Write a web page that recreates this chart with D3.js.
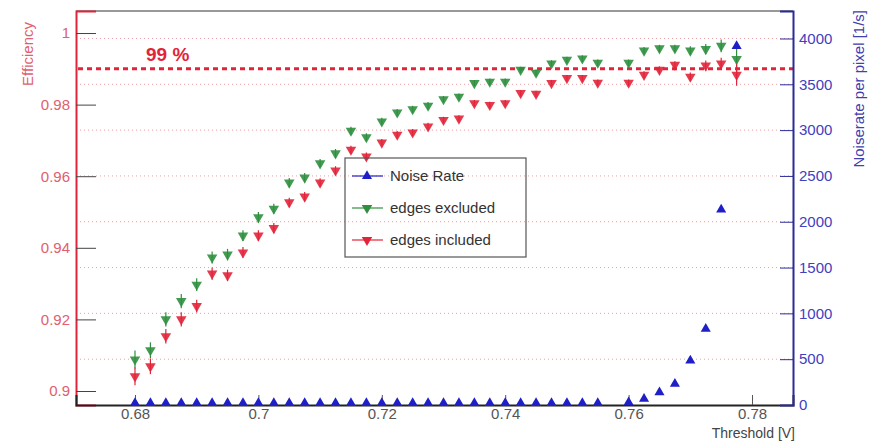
<!DOCTYPE html>
<html>
<head>
<meta charset="utf-8">
<script src="https://cdn.jsdelivr.net/npm/d3@7"></script>
<style>
  body { margin: 0; background: #fff; }
  svg { display: block; font-family: "Liberation Sans", Arial, sans-serif; }
</style>
</head>
<body>
<svg id="chart" width="874" height="441"></svg>
<script>
// threshold values [V] (0.7575 was not measured)
var thresholds = [0.68, 0.6825, 0.685, 0.6875, 0.69, 0.6925, 0.695, 0.6975, 0.7, 0.7025,
    0.705, 0.7075, 0.71, 0.7125, 0.715, 0.7175, 0.72, 0.7225, 0.725, 0.7275,
    0.73, 0.7325, 0.735, 0.7375, 0.74, 0.7425, 0.745, 0.7475, 0.75, 0.7525,
    0.755, 0.76, 0.7625, 0.765, 0.7675, 0.77, 0.7725, 0.775, 0.7775];

var effExcluded = [0.9088, 0.9114, 0.9200, 0.9251, 0.9297, 0.9373, 0.9381, 0.9434, 0.9485, 0.9509,
    0.9582, 0.9596, 0.9636, 0.9664, 0.9727, 0.9709, 0.9753, 0.9778, 0.9787, 0.9797,
    0.9815, 0.9822, 0.9860, 0.9864, 0.9864, 0.9897, 0.9889, 0.9915, 0.9925, 0.9929,
    0.9917, 0.9917, 0.9951, 0.9957, 0.9957, 0.9951, 0.9955, 0.9964, 0.9927];

var effIncluded = [0.9041, 0.9069, 0.9153, 0.9200, 0.9237, 0.9328, 0.9323, 0.9387, 0.9434, 0.9455,
    0.9527, 0.9543, 0.9582, 0.9616, 0.9674, 0.9655, 0.9694, 0.9716, 0.9722, 0.9739,
    0.9757, 0.9761, 0.9804, 0.9799, 0.9804, 0.9832, 0.9830, 0.9860, 0.9874, 0.9874,
    0.9861, 0.9861, 0.9883, 0.9897, 0.9911, 0.9878, 0.9909, 0.9915, 0.9883];

var errExcluded = [0.0025, 0.0022, 0.002, 0.002, 0.0018, 0.0017, 0.0016, 0.0015, 0.0015, 0.0014,
    0.0013, 0.0013, 0.0012, 0.0012, 0.0011, 0.0011, 0.001, 0.001, 0.001, 0.001,
    0.0009, 0.0009, 0.0009, 0.0009, 0.0009, 0.0009, 0.0009, 0.0009, 0.0009, 0.0009,
    0.0009, 0.0009, 0.001, 0.001, 0.001, 0.0012, 0.0014, 0.0018, 0.0045];

var errIncluded = [0.0025, 0.0022, 0.002, 0.002, 0.0018, 0.0017, 0.0016, 0.0015, 0.0015, 0.0014,
    0.0013, 0.0013, 0.0012, 0.0012, 0.0011, 0.0011, 0.001, 0.001, 0.001, 0.001,
    0.0009, 0.0009, 0.0009, 0.0009, 0.0009, 0.0009, 0.0009, 0.0009, 0.0009, 0.0009,
    0.0009, 0.0009, 0.001, 0.001, 0.001, 0.0012, 0.0014, 0.0016, 0.003];

// noise rate per pixel [1/s]
var noiseRate = [0, 0, 0, 0, 0, 0, 0, 0, 0, 0,
    0, 0, 0, 0, 0, 0, 0, 0, 0, 0,
    0, 0, 0, 0, 0, 0, 0, 0, 0, 0,
    0, 8, 45, 117, 208, 463, 810, 2112, 3895];

var effTicks = [0.9, 0.92, 0.94, 0.96, 0.98, 1];
var noiseTicks = [0, 500, 1000, 1500, 2000, 2500, 3000, 3500, 4000];
var thrTicks = [0.68, 0.7, 0.72, 0.74, 0.76, 0.78];
var legendLabels = ['Noise Rate', 'edges excluded', 'edges included'];

// frame edges ("top" is taken by window.top, so prefix them)
var padLeft = 76, padRight = 793, padTop = 11, padBottom = 405;
var red = '#e2243a', green = '#2f8f3f', blue = '#1f1fc8';

var svg = d3.select('#chart');

var x = d3.scaleLinear().domain([0.67044, 0.78664]).range([padLeft, padRight]);
var yEff = d3.scaleLinear().domain([0.89609, 1.00615]).range([padBottom, padTop]);
var yNoise = d3.scaleLinear().domain([0, 4300]).range([padBottom, padTop]);

// dotted grid at the noise axis divisions
svg.append('g')
    .selectAll('line')
    .data(noiseTicks.slice(1))
    .enter()
    .append('line')
    .attr('x1', padLeft)
    .attr('x2', padRight)
    .attr('y1', function(d) { return yNoise(d); })
    .attr('y2', function(d) { return yNoise(d); })
    .style('stroke', '#e07880')
    .style('stroke-width', 1)
    .style('stroke-dasharray', '1,3')
    .style('opacity', 0.7);

// 99 % reference line
svg.append('line')
    .attr('x1', padLeft + 2)
    .attr('x2', padRight)
    .attr('y1', yEff(0.99))
    .attr('y2', yEff(0.99))
    .style('stroke', red)
    .style('stroke-width', 3)
    .style('stroke-dasharray', '5,4');

svg.append('text')
    .attr('x', 146)
    .attr('y', 61)
    .attr('fill', red)
    .style('font-size', '19px')
    .style('font-weight', 'bold')
    .text('99 %');

// frame top
svg.append('line')
    .attr('x1', padLeft).attr('x2', padRight)
    .attr('y1', padTop).attr('y2', padTop)
    .style('stroke', '#777')
    .style('stroke-width', 1.5);

// left axis (efficiency)
var gLeft = svg.append('g').attr('transform', 'translate(' + padLeft + ',0)');
gLeft.call(d3.axisLeft(yEff).tickValues(d3.range(0.895, 1.0065, 0.005)).tickSize(-8).tickFormat(''));
gLeft.call(d3.axisLeft(yEff).tickValues(effTicks).tickSize(-20).tickPadding(6).tickFormat(d3.format('')));
gLeft.selectAll('.tick line').style('stroke', '#444');
gLeft.selectAll('.domain').style('stroke', red).style('stroke-width', 2);
gLeft.selectAll('text').attr('fill', '#e0606e').style('font-size', '15px').style('font-family', 'Liberation Sans, Arial, sans-serif');

// bottom axis (threshold)
var gBottom = svg.append('g').attr('transform', 'translate(0,' + padBottom + ')');
gBottom.call(d3.axisBottom(x).tickValues(d3.range(0.675, 0.7866, 0.005)).tickSize(-5).tickFormat(''));
gBottom.call(d3.axisBottom(x).tickValues(thrTicks).tickSize(-10).tickPadding(3).tickFormat(d3.format('')));
gBottom.selectAll('.tick line').style('stroke', '#555');
gBottom.selectAll('.domain').style('stroke', '#222').style('stroke-width', 2);
gBottom.selectAll('text').attr('fill', '#555').style('font-size', '15px').style('font-family', 'Liberation Sans, Arial, sans-serif');

// right axis (noise rate)
var gRight = svg.append('g').attr('transform', 'translate(' + padRight + ',0)');
gRight.call(d3.axisRight(yNoise).tickValues(d3.range(0, 4301, 100)).tickSize(-7).tickFormat(''));
gRight.call(d3.axisRight(yNoise).tickValues(noiseTicks).tickSize(-13).tickPadding(6).tickFormat(d3.format('')));
gRight.selectAll('.tick line').style('stroke', '#2a2a9a');
gRight.selectAll('.domain').style('stroke', '#2a2a9a').style('stroke-width', 2);
gRight.selectAll('text').attr('fill', '#4040c0').style('font-size', '15px').style('font-family', 'Liberation Sans, Arial, sans-serif');

// axis titles
svg.append('text')
    .attr('transform', 'translate(33,22) rotate(-90)')
    .style('text-anchor', 'end')
    .style('font-size', '15px')
    .attr('fill', '#e06070')
    .text('Efficiency');

svg.append('text')
    .attr('transform', 'translate(864,10) rotate(-90)')
    .style('text-anchor', 'end')
    .style('font-size', '15px')
    .attr('fill', '#4040b0')
    .text('Noiserate per pixel [1/s]');

svg.append('text')
    .attr('x', padRight + 2)
    .attr('y', 438)
    .style('text-anchor', 'end')
    .style('font-size', '14px')
    .attr('fill', '#444')
    .text('Threshold [V]');

// efficiency series with error bars
var triDown = d3.symbol().type(d3.symbolTriangle).size(48);
var triUp = d3.symbol().type(d3.symbolTriangle).size(44);

function drawEff(values, errs, color) {
    var g = svg.append('g');
    g.selectAll('line')
        .data(values)
        .enter()
        .append('line')
        .attr('x1', function(d, i) { return x(thresholds[i]); })
        .attr('x2', function(d, i) { return x(thresholds[i]); })
        .attr('y1', function(d, i) { return yEff(d - errs[i]); })
        .attr('y2', function(d, i) { return yEff(Math.min(d + errs[i], 1)); })
        .style('stroke', color)
        .style('stroke-width', 1.2);
    g.selectAll('path')
        .data(values)
        .enter()
        .append('path')
        .attr('d', triDown)
        .attr('transform', function(d, i) {
            return 'translate(' + x(thresholds[i]) + ',' + yEff(d) + ') rotate(180)';
        })
        .style('fill', color)
        .style('opacity', 0.9);
}

drawEff(effExcluded, errExcluded, green);
drawEff(effIncluded, errIncluded, red);

svg.append('g')
    .selectAll('path')
    .data(noiseRate)
    .enter()
    .append('path')
    .attr('d', triUp)
    .attr('transform', function(d, i) {
        return 'translate(' + x(thresholds[i]) + ',' + (yNoise(d) - 2) + ')';
    })
    .style('fill', blue);

// legend
var legend = svg.append('g').attr('transform', 'translate(345,158)');
legend.append('rect')
    .attr('width', 181)
    .attr('height', 99)
    .style('fill', 'none')
    .style('stroke', '#555')
    .style('stroke-width', 1.2);

var legendColors = [blue, green, red];
var rows = legend.selectAll('g.row')
    .data(legendLabels)
    .enter()
    .append('g')
    .attr('class', 'row')
    .attr('transform', function(d, i) { return 'translate(0,' + (18 + i * 32) + ')'; });

rows.append('line')
    .attr('x1', 7).attr('x2', 38)
    .style('stroke', function(d, i) { return legendColors[i]; })
    .style('stroke-width', 1.2);

rows.append('path')
    .attr('d', function(d, i) { return i === 0 ? triUp() : triDown(); })
    .attr('transform', function(d, i) { return 'translate(22,0)' + (i === 0 ? '' : ' rotate(180)'); })
    .style('fill', function(d, i) { return legendColors[i]; });

rows.append('text')
    .attr('x', 45)
    .attr('y', 5)
    .attr('fill', '#333')
    .style('font-size', '15px')
    .text(function(d) { return d; });
</script>
</body>
</html>
